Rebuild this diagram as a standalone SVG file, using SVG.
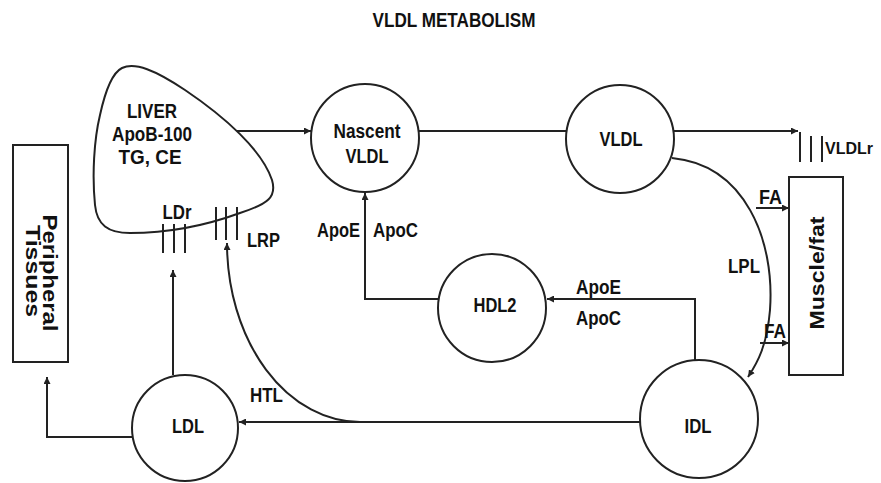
<svg xmlns="http://www.w3.org/2000/svg" width="881" height="483" viewBox="0 0 881 483">
<defs>
<style>
.s{fill:none;stroke:#222;stroke-width:2}
.n{fill:#fff;stroke:#222;stroke-width:2}
.t{font-family:"Liberation Sans",Arial,sans-serif;font-weight:bold;font-size:20px;fill:#111}
.m{text-anchor:middle}
.sm{font-size:16px}
</style>
<marker id="ah" viewBox="0 0 10 10" refX="10" refY="5" markerWidth="7" markerHeight="7" markerUnits="userSpaceOnUse" orient="auto">
<path d="M0,0 L10,5 L0,10 Z" fill="#222"/>
</marker>
</defs>
<rect width="881" height="483" fill="#fff"/>
<text class="t m" x="454" y="27" textLength="163" lengthAdjust="spacingAndGlyphs">VLDL METABOLISM</text>

<g id="connectors">
<path class="s" d="M236,131 L311,131" marker-end="url(#ah)"/>
<path class="s" d="M419,131 L567,131"/>
<path class="s" d="M674,131 L798,131" marker-end="url(#ah)"/>
<path class="s" d="M672,158 C745,165 775,240 770,310 C767,345 758,362 748,377" marker-end="url(#ah)"/>
<path class="s" d="M756,208 L789,208" marker-end="url(#ah)"/>
<path class="s" d="M760,343 L789,343" marker-end="url(#ah)"/>
<path class="s" d="M695,360 L695,299 L547,299" marker-end="url(#ah)"/>
<path class="s" d="M438,299 L365,299 L365,193" marker-end="url(#ah)"/>
<path class="s" d="M640,422 L239,422" marker-end="url(#ah)"/>
<path class="s" d="M370,422 L360,422 A133,179 0 0 1 227,243" marker-end="url(#ah)"/>
<path class="s" d="M173,375 L173,270" marker-end="url(#ah)"/>
<path class="s" d="M132,437 L47,437 L47,377" marker-end="url(#ah)"/>
</g>

<g id="liver">
<path class="n" d="M122,68 C135,62 155,70 185,90 C225,117 262,150 272,180 C277,197 268,204 240,213 C210,224 170,233 130,233 C108,233 97,225 95,205 C92,175 94,140 100,115 C105,92 112,73 122,68 Z"/>
<text class="t m" x="152" y="118" textLength="50" lengthAdjust="spacingAndGlyphs">LIVER</text>
<text class="t m" x="152" y="141" textLength="80" lengthAdjust="spacingAndGlyphs">ApoB-100</text>
<text class="t m" x="150" y="164" textLength="63" lengthAdjust="spacingAndGlyphs">TG, CE</text>
<text class="t m" x="177" y="219" textLength="29" lengthAdjust="spacingAndGlyphs">LDr</text>
<path class="s" d="M163,224 V253 M174,224 V253 M185,224 V253"/>
<path class="s" d="M216,207 V240 M226,207 V240 M237,207 V240"/>
<text class="t" x="247" y="247" textLength="33" lengthAdjust="spacingAndGlyphs">LRP</text>
</g>

<g id="nascent-vldl">
<circle class="n" cx="365" cy="138" r="54"/>
<text class="t m" x="367" y="138" textLength="67" lengthAdjust="spacingAndGlyphs">Nascent</text>
<text class="t m" x="367" y="163" textLength="43" lengthAdjust="spacingAndGlyphs">VLDL</text>
</g>

<g id="vldl">
<circle class="n" cx="620" cy="139" r="54"/>
<text class="t m" x="621" y="146" textLength="43" lengthAdjust="spacingAndGlyphs">VLDL</text>
</g>

<g id="vldlr">
<path class="s" d="M800,132 V162 M811,136 V162 M822,136 V162"/>
<text class="t sm" x="825" y="154" textLength="48" lengthAdjust="spacingAndGlyphs">VLDLr</text>
</g>

<g id="muscle-fat">
<rect class="n" x="789" y="177" width="54" height="198"/>
<text class="t m" transform="translate(817,273) rotate(-90)" dominant-baseline="central" textLength="113" lengthAdjust="spacingAndGlyphs">Muscle/fat</text>
</g>

<g id="hdl2">
<circle class="n" cx="492" cy="308" r="54"/>
<text class="t m" x="495" y="312" textLength="43" lengthAdjust="spacingAndGlyphs">HDL2</text>
</g>

<g id="idl">
<circle class="n" cx="699" cy="419" r="59"/>
<text class="t m" x="698" y="433" textLength="27" lengthAdjust="spacingAndGlyphs">IDL</text>
</g>

<g id="ldl">
<circle class="n" cx="185" cy="428" r="53"/>
<text class="t m" x="188" y="433" textLength="32" lengthAdjust="spacingAndGlyphs">LDL</text>
</g>

<g id="peripheral-tissues">
<rect class="n" x="13" y="145" width="55" height="217"/>
<text class="t m" transform="translate(50,273) rotate(90)" dominant-baseline="central" textLength="117" lengthAdjust="spacingAndGlyphs">Peripheral</text>
<text class="t m" transform="translate(33,271) rotate(90)" dominant-baseline="central" textLength="92" lengthAdjust="spacingAndGlyphs">Tissues</text>
</g>

<g id="labels">
<text class="t" x="759" y="204" textLength="23" lengthAdjust="spacingAndGlyphs">FA</text>
<text class="t" x="764" y="338" textLength="22" lengthAdjust="spacingAndGlyphs">FA</text>
<text class="t" x="728" y="273" textLength="32" lengthAdjust="spacingAndGlyphs">LPL</text>
<text class="t" x="576" y="294" textLength="45" lengthAdjust="spacingAndGlyphs">ApoE</text>
<text class="t" x="576" y="325" textLength="45" lengthAdjust="spacingAndGlyphs">ApoC</text>
<text class="t" x="317" y="237" textLength="43" lengthAdjust="spacingAndGlyphs">ApoE</text>
<text class="t" x="373" y="237" textLength="45" lengthAdjust="spacingAndGlyphs">ApoC</text>
<text class="t" x="250" y="402" textLength="33" lengthAdjust="spacingAndGlyphs">HTL</text>
</g>
</svg>
